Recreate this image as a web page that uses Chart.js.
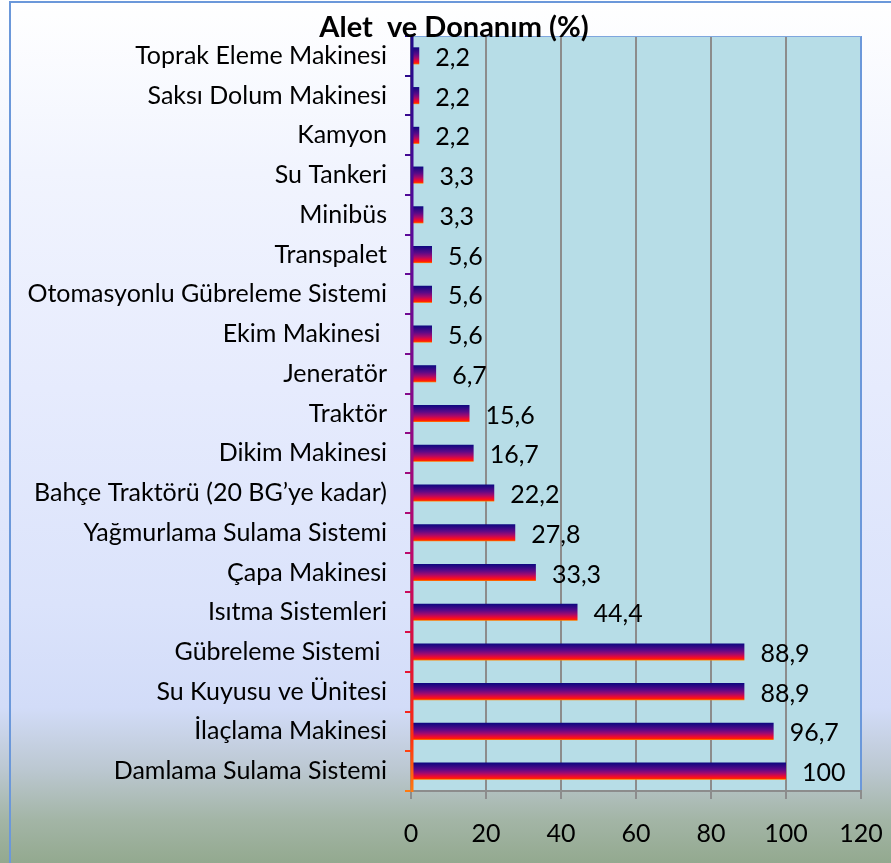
<!DOCTYPE html>
<html>
<head>
<meta charset="utf-8">
<script src="https://cdn.jsdelivr.net/npm/chart.js@4"></script>
<style>
  html, body { margin: 0; padding: 0; width: 891px; height: 863px; overflow: hidden; }
  body {
    background: linear-gradient(to bottom,
      #ffffff 0%, #f1f4fe 20%, #e6ebfd 45%, #dbe3fb 70%, #d2dcf8 82%, #bcc8d2 89%, #a3b5a6 95%, #93a98f 100%);
  }
  #frame {
    position: absolute; left: 9px; top: 1px; width: 900px; height: 900px;
    border-left: 2px solid #6b98da; border-top: 2px solid #6b98da;
  }
  canvas { position: absolute; left: 0; top: 0; }
</style>
</head>
<body>
<div id="frame"></div>
<canvas id="c" width="891" height="863"></canvas>
<script>
// Equipment categories, listed from top to bottom
const categories = [
  'Toprak Eleme Makinesi',
  'Saksı Dolum Makinesi',
  'Kamyon',
  'Su Tankeri',
  'Minibüs',
  'Transpalet',
  'Otomasyonlu Gübreleme Sistemi',
  'Ekim Makinesi ',
  'Jeneratör',
  'Traktör',
  'Dikim Makinesi',
  'Bahçe Traktörü (20 BG’ye kadar)',
  'Yağmurlama Sulama Sistemi',
  'Çapa Makinesi',
  'Isıtma Sistemleri',
  'Gübreleme Sistemi ',
  'Su Kuyusu ve Ünitesi',
  'İlaçlama Makinesi',
  'Damlama Sulama Sistemi'
];

// Share of enterprises owning each item (%)
const percentages = [
  2.2, 2.2, 2.2, 3.3, 3.3, 5.6, 5.6, 5.6, 6.7, 15.6,
  16.7, 22.2, 27.8, 33.3, 44.4, 88.9, 88.9, 96.7, 100
];

// Value axis
const axisMin = 0;
const axisMax = 120;
const axisStep = 20;

const titleText = 'Alet  ve Donanım (%)';
const FONT = 'Lato, "Open Sans", sans-serif';
const LABEL_SIZE = 25;

const fmt = v => String(v).replace('.', ',');

function axisGradient(chart) {
  const a = chart.chartArea;
  if (!a) return '#7a0a80';
  const g = chart.ctx.createLinearGradient(0, a.top, 0, a.bottom);
  g.addColorStop(0, '#200a88');
  g.addColorStop(0.25, '#580a9a');
  g.addColorStop(0.5, '#8a0a88');
  g.addColorStop(0.7, '#c00a6a');
  g.addColorStop(0.82, '#e0103a');
  g.addColorStop(0.93, '#ff3010');
  g.addColorStop(1, '#ff7a10');
  return g;
}

function barFill(c) {
  const chart = c.chart;
  const y = chart.scales.y;
  if (!chart.chartArea || !y) return '#6a0a80';
  const cy = y.getPixelForValue(c.dataIndex);
  const half = 8.5;
  const g = chart.ctx.createLinearGradient(0, cy - half, 0, cy + half);
  g.addColorStop(0, '#0c0880');
  g.addColorStop(0.4, '#5a0a88');
  g.addColorStop(0.62, '#a00a70');
  g.addColorStop(0.82, '#f00a30');
  g.addColorStop(0.93, '#ff2200');
  g.addColorStop(1, '#ff8a00');
  return g;
}

const plotDecor = {
  id: 'plotDecor',
  beforeDraw(chart) {
    const { ctx, chartArea: a } = chart;
    ctx.save();
    ctx.fillStyle = '#b7dde7';
    ctx.fillRect(a.left, a.top, a.right - a.left, a.bottom - a.top);
    ctx.restore();
  },
  afterDraw(chart) {
    const { ctx, chartArea: a } = chart;
    ctx.save();
    // top edge of the plot
    ctx.strokeStyle = '#7ea6de';
    ctx.lineWidth = 1;
    ctx.beginPath();
    ctx.moveTo(a.left, a.top + 0.5);
    ctx.lineTo(a.right, a.top + 0.5);
    ctx.stroke();
    // category axis line
    ctx.strokeStyle = axisGradient(chart);
    ctx.lineWidth = 3;
    ctx.beginPath();
    ctx.moveTo(a.left + 1, a.top);
    ctx.lineTo(a.left + 1, a.bottom + 1);
    ctx.stroke();
    // title
    ctx.fillStyle = '#000';
    ctx.font = 'bold 29px ' + FONT;
    ctx.textAlign = 'center';
    ctx.textBaseline = 'alphabetic';
    ctx.fillText(titleText, 454, 37);
    ctx.restore();
  }
};

const valueLabels = {
  id: 'valueLabels',
  afterDatasetsDraw(chart) {
    const { ctx } = chart;
    const meta = chart.getDatasetMeta(0);
    ctx.save();
    ctx.fillStyle = '#000';
    ctx.font = LABEL_SIZE + 'px ' + FONT;
    ctx.textAlign = 'left';
    ctx.textBaseline = 'middle';
    meta.data.forEach((bar, i) => {
      ctx.fillText(fmt(percentages[i]), bar.x + 16, bar.y + 2);
    });
    ctx.restore();
  }
};

new Chart(document.getElementById('c'), {
  type: 'bar',
  data: {
    labels: categories,
    datasets: [{
      data: percentages,
      backgroundColor: barFill,
      borderWidth: 0,
      categoryPercentage: 1,
      barPercentage: 0.43
    }]
  },
  options: {
    indexAxis: 'y',
    responsive: false,
    animation: false,
    layout: { padding: { top: 36, right: 30, left: 0, bottom: 0 } },
    plugins: {
      legend: { display: false },
      tooltip: { enabled: false },
      title: { display: false }
    },
    scales: {
      x: {
        min: axisMin,
        max: axisMax,
        ticks: {
          stepSize: axisStep,
          color: '#000',
          font: { family: FONT, size: LABEL_SIZE },
          padding: 20
        },
        grid: {
          color: c => (c.tick && c.tick.value === axisMax) ? '#6b98da' : '#8c8c8c',
          tickColor: '#8c8c8c',
          lineWidth: 2,
          tickLength: 8
        },
        border: { display: true, color: '#8c8c8c', width: 2 },
        afterFit(scale) {
          scale.height = 72;
          scale.paddingLeft = 0;
          scale.paddingRight = 0;
        }
      },
      y: {
        ticks: {
          color: '#000',
          font: { family: FONT, size: LABEL_SIZE },
          padding: 18,
          autoSkip: false
        },
        grid: {
          offset: true,
          drawOnChartArea: false,
          drawTicks: true,
          tickLength: 6,
          lineWidth: 2,
          tickColor: c => axisGradient(c.chart)
        },
        border: { display: false },
        afterFit(scale) {
          scale.width = 411;
          scale.paddingTop = 0;
          scale.paddingBottom = 0;
        }
      }
    }
  },
  plugins: [plotDecor, valueLabels]
});
</script>
</body>
</html>
